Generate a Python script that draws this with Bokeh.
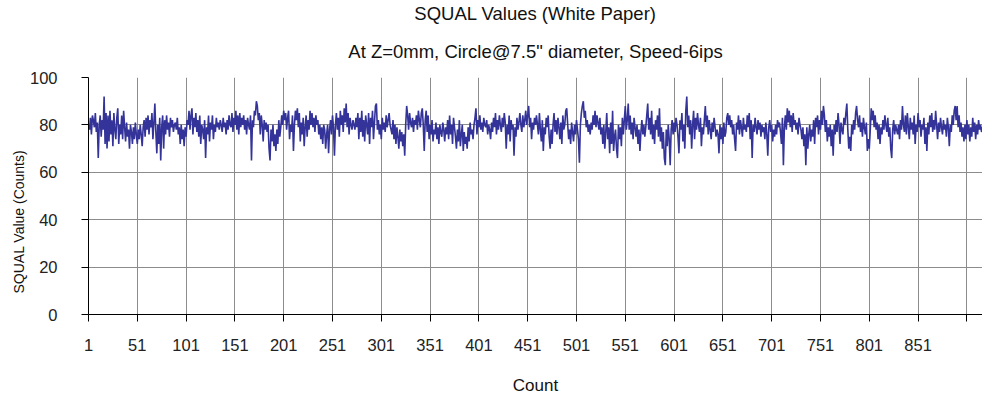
from bokeh.plotting import figure
from bokeh.models import Range1d, FixedTicker, Title
from bokeh.embed import file_html
from bokeh.resources import INLINE

# SQUAL readings (counts) in consecutive segments
squal_001_092 = [80, 78, 83, 76, 84, 82, 79, 85, 77, 81,
                 66, 80, 84, 75, 82, 78, 92, 72, 85, 70,
                 84, 73, 86, 76, 82, 71, 85, 78, 74, 83,
                 87, 72, 80, 76, 84, 74, 86, 79, 73, 81,
                 75, 78, 70, 80, 77, 72, 79, 74, 81, 76,
                 72, 78, 74, 80, 76, 71, 79, 82, 75, 83,
                 78, 84, 76, 82, 79, 85, 74, 81, 89, 77,
                 68, 80, 72, 83, 65, 79, 84, 70, 82, 76,
                 84, 78, 81, 75, 83, 79, 82, 77, 80, 81, 78, 83]
squal_093_184 = [76, 79, 72, 80, 74, 78, 71, 79, 75, 82,
                 80, 86, 78, 84, 87, 76, 83, 79, 85, 77,
                 82, 75, 84, 72, 80, 78, 74, 82, 66, 79,
                 76, 84, 73, 81, 78, 84, 74, 80, 77, 83,
                 79, 81, 78, 82, 80, 77, 83, 79, 81, 76,
                 82, 78, 84, 80, 79, 85, 77, 83, 80, 86,
                 78, 84, 76, 85, 79, 83, 80, 84, 78, 82,
                 76, 83, 80, 78, 84, 65, 82, 79, 86, 84,
                 90, 88, 82, 85, 76, 84, 80, 73, 82, 78,
                 81, 77]
squal_185_276 = [80, 70, 65, 78, 73, 80, 71, 76,
                 69, 78, 72, 82, 75, 79, 84, 80, 86, 82,
                 85, 78, 83, 86, 74, 80, 77, 84, 69, 80,
                 86, 82, 87, 79, 85, 73, 81, 76, 83, 71,
                 79, 84, 75, 82, 78, 86, 80, 85, 79, 83,
                 77, 84, 80, 82, 76, 80, 74, 79, 72, 80,
                 78, 70, 76, 80, 68, 78, 82, 76, 84, 79,
                 67, 80, 85, 78, 83, 75, 86, 80, 84, 77,
                 87, 81, 89, 79, 85, 76, 83, 80, 78, 82,
                 80, 78, 83, 79]
squal_277_368 = [85, 74, 83, 77, 86, 75, 82, 73, 84,
                 80, 76, 85, 72, 83, 79, 86, 74, 81, 88,
                 89, 78, 82, 76, 80, 74, 83, 78, 81, 77,
                 84, 79, 82, 85, 80, 78, 76, 82, 74, 80,
                 72, 79, 75, 70, 78, 73, 77, 71, 76, 67,
                 80, 88, 84, 78, 85, 81, 79, 83, 77, 82,
                 80, 84, 78, 86, 82, 79, 85, 87, 80, 69,
                 82, 86, 77, 84, 74, 80, 76, 82, 73, 78,
                 76, 81, 74, 79, 72, 80, 77, 75, 81, 78, 73, 79, 76]
squal_369_460 = [82, 74, 84, 76, 80, 72, 83, 79, 75,
                 70, 78, 73, 82, 71, 76, 80, 69, 77, 72,
                 75, 70, 79, 73, 81, 76, 78, 74, 80, 83,
                 87, 76, 82, 79, 84, 78, 81, 77, 83, 80,
                 79, 82, 76, 80, 78, 74, 81, 77, 83, 79,
                 85, 76, 82, 78, 84, 80, 77, 83, 79, 85,
                 81, 70, 80, 76, 84, 73, 82, 78, 80, 67,
                 79, 75, 83, 78, 81, 85, 80, 77, 84, 79,
                 82, 86, 80, 84, 88, 79, 83, 74, 81, 78, 83, 80, 84]
squal_461_552 = [80, 76, 85, 78, 73, 82, 69, 79, 76, 83,
                 79, 84, 75, 70, 78, 72, 80, 85, 77, 82,
                 76, 83, 79, 74, 81, 72, 84, 78, 80, 86,
                 87, 80, 74, 78, 72, 81, 77, 73, 80, 76,
                 82, 78, 74, 64, 80, 85, 88, 90, 83, 86,
                 79, 82, 77, 80, 76, 81, 78, 84, 80, 86,
                 79, 84, 81, 78, 83, 76, 79, 72, 80, 70,
                 77, 85, 74, 79, 68, 81, 72, 86, 69, 75,
                 78, 70, 66, 80, 74, 79, 71, 83, 76, 82, 88, 78]
squal_553_644 = [82, 89, 78, 84, 76, 81, 74, 83, 79, 75,
                 80, 72, 78, 69, 77, 82, 76, 80, 75, 79,
                 84, 89, 78, 83, 76, 86, 74, 80, 72, 82,
                 78, 84, 75, 87, 73, 79, 70, 77, 66, 63,
                 78, 71, 80, 74, 63, 78, 82, 76, 81, 77,
                 83, 80, 75, 68, 82, 78, 85, 73, 80, 70,
                 86, 92, 79, 84, 76, 82, 70, 80, 86, 74,
                 83, 78, 85, 80, 77, 83, 71, 79, 76, 82,
                 88, 79, 84, 76, 82, 78, 74, 81, 77, 83, 79, 75]
squal_645_736 = [78, 76, 68, 80, 74, 79, 72, 81, 75, 77,
                 83, 85, 80, 84, 79, 82, 76, 80, 74, 69,
                 81, 78, 84, 76, 82, 79, 75, 83, 78, 80,
                 77, 84, 79, 85, 74, 82, 66, 80, 77, 83,
                 79, 76, 82, 78, 81, 75, 80, 77, 79, 74,
                 81, 76, 67, 79, 82, 77, 80, 73, 78, 75,
                 80, 76, 82, 79, 81, 77, 72, 83, 63, 79,
                 84, 78, 87, 81, 86, 79, 84, 77, 85, 80,
                 82, 78, 81, 76, 83, 80, 78, 74, 79, 71, 76, 63]
squal_737_829 = [79, 70, 76, 80, 73, 78, 75, 82, 72, 83,
                 79, 84, 76, 82, 78, 86, 80, 88, 84, 77,
                 82, 73, 79, 75, 80, 71, 78, 67, 80, 76,
                 82, 77, 85, 80, 72, 81, 78, 76, 83, 80,
                 85, 89, 78, 70, 75, 69, 80, 76, 82, 78,
                 85, 88, 82, 79, 84, 77, 81, 75, 83, 79,
                 76, 81, 69, 74, 70, 78, 87, 82, 86, 79,
                 84, 78, 81, 74, 80, 72, 79, 76, 82, 78,
                 84, 80, 77, 83, 75, 79, 70, 66, 78, 82, 76, 80, 78]
squal_830_917 = [76, 80, 74, 82, 78, 88, 80, 77, 84, 76,
                 85, 79, 74, 83, 78, 81, 76, 84, 72, 80,
                 77, 85, 79, 82, 75, 80, 78, 83, 72, 79,
                 69, 81, 76, 84, 79, 85, 77, 82, 78, 86,
                 80, 74, 81, 77, 83, 79, 76, 82, 78, 80,
                 75, 83, 79, 71, 80, 77, 84, 80, 86, 88,
                 82, 88, 79, 84, 77, 81, 75, 79, 73, 80,
                 74, 82, 76, 80, 73, 79, 75, 83, 77, 81,
                 74, 80, 76, 82, 78, 80, 77, 79]

x_ticks = [1, 51, 101, 151, 201, 251, 301, 351, 401, 451,
           501, 551, 601, 651, 701, 751, 801, 851, 901]
y_ticks = [0, 20, 40, 60, 80, 100]

title_line1 = "SQUAL Values (White Paper)"
title_line2 = 'At Z=0mm, Circle@7.5" diameter, Speed-6ips'
x_title = "Count"
y_title = "SQUAL Value (Counts)"

squal = (squal_001_092 + squal_093_184 + squal_185_276 + squal_277_368 +
         squal_369_460 + squal_461_552 + squal_553_644 + squal_645_736 +
         squal_737_829 + squal_830_917)
count = list(range(1, len(squal) + 1))

FONT = "Liberation Sans"
TXT = "#111111"

p = figure(width=982, height=400, output_backend="svg", toolbar_location=None,
           x_range=Range1d(1, len(squal)), y_range=Range1d(0, 100),
           min_border_left=88, min_border_right=0, min_border_top=77,
           min_border_bottom=86)
p.outline_line_color = None
p.background_fill_color = "white"
p.border_fill_color = "white"

p.line(count, squal, line_color="#333399", line_width=1.6)

p.xaxis.ticker = FixedTicker(ticks=x_ticks)
p.yaxis.ticker = FixedTicker(ticks=y_ticks)
p.xaxis.major_label_overrides = {901: ""}
for ax in (p.xaxis, p.yaxis):
    ax.major_tick_out = 7
    ax.major_tick_in = 0
    ax.minor_tick_line_color = None
    ax.axis_line_color = "#000000"
    ax.major_tick_line_color = "#000000"
    ax.major_label_text_font = FONT
    ax.major_label_text_font_size = "16.5px"
    ax.major_label_text_color = "#222222"
p.xaxis.major_label_standoff = 17
p.yaxis.major_label_standoff = 24

p.xaxis.axis_label = x_title
p.xaxis.axis_label_standoff = 22
p.xaxis.axis_label_text_font = FONT
p.xaxis.axis_label_text_font_size = "17px"
p.xaxis.axis_label_text_font_style = "normal"
p.xaxis.axis_label_text_color = TXT

p.xgrid.grid_line_color = "#8c8c8c"
p.ygrid.grid_line_color = "#8c8c8c"

# two-line title: first line outermost, second line next to the plot
p.title.text = title_line1
p.title.align = "center"
p.title.standoff = 0
p.title.text_font = FONT
p.title.text_font_size = "18.5px"
p.title.text_font_style = "normal"
p.title.text_color = TXT
p.add_layout(Title(text=title_line2, align="center", standoff=31,
                   text_font=FONT, text_font_size="18.5px",
                   text_font_style="normal", text_color=TXT), "above")

# y-axis title, starting just above the bottom of the plot and reading upward
p.add_layout(Title(text=y_title, align="left", offset=21, standoff=0,
                   text_font=FONT, text_font_size="14px",
                   text_font_style="normal", text_color=TXT), "left")

open("out.html", "w").write(file_html(p, INLINE))
